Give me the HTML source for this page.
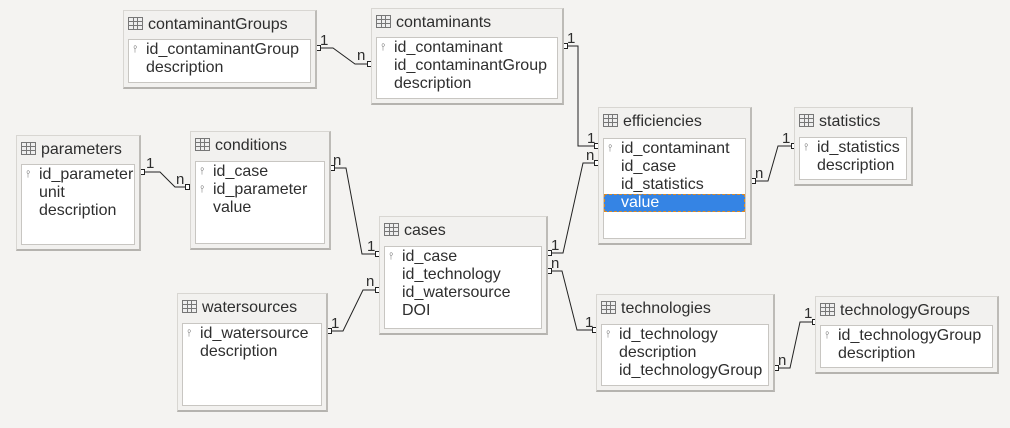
<!DOCTYPE html>
<html><head><meta charset="utf-8"><style>
body{margin:0;width:1010px;height:428px;background:#f4f3f1;position:relative;overflow:hidden;font-family:"Liberation Sans","DejaVu Sans",sans-serif;color:#2e2e2e}
.t{position:absolute;background:#f2f1ef;border:1px solid #d8d6d2;border-right:2px solid #bdbbb7;border-bottom:2px solid #b5b3af;box-sizing:border-box}
.h{position:absolute;left:4px;top:4px;font-size:16px;line-height:20px;white-space:nowrap}
.ic{display:inline-block;width:13px;height:11px;border:1px solid #777;margin-right:5px;vertical-align:-1px;background:linear-gradient(#777,#777) 0 3px/100% 1px no-repeat,linear-gradient(#777,#777) 4px 0/1px 100% no-repeat,linear-gradient(#777,#777) 8px 0/1px 100% no-repeat,linear-gradient(#777,#777) 0 7px/100% 1px no-repeat;background-color:#eee}
.b{position:absolute;left:4px;right:4px;bottom:4px;background:#fff;border:1px solid #c8c6c2;box-sizing:border-box;padding-top:1px}
.r{font-size:16px;line-height:18px;padding-left:17px;position:relative;white-space:nowrap}
.k::before{content:"⫯";position:absolute;left:4px;top:0;font-size:10px;color:#777}
.sel{background:#3584e4;color:#fff;outline:1px dashed #e08a20;outline-offset:-1px}
svg{position:absolute;left:0;top:0}
svg text{font-family:"Liberation Sans","DejaVu Sans",sans-serif;font-size:15px;fill:#2e2e2e}
</style></head><body>
<svg width="1010" height="428"><g stroke="#222" stroke-width="1" fill="none">
<polyline points="317,48 333,48 355,64 371,64"/>
<polyline points="564,46 578,46 578,146 598,146"/>
<polyline points="548,253 563,253 583,163 598,163"/>
<polyline points="548,271 562,271 577,330 596,330"/>
<polyline points="752,181 768,181 778,146 795,146"/>
<polyline points="141,172 160,172 175,187 189,187"/>
<polyline points="331,168 346,168 362,254 379,254"/>
<polyline points="328,331 343,331 363,290 379,290"/>
<polyline points="775,368 790,368 800,322 816,322"/>
</g>
<g fill="#fff" stroke="#222">
<rect x="316.5" y="45.5" width="4" height="5"/><rect x="367.5" y="61.5" width="4" height="5"/>
<rect x="563.5" y="43.5" width="4" height="5"/><rect x="594.5" y="143.5" width="4" height="5"/>
<rect x="547.5" y="250.5" width="4" height="5"/><rect x="594.5" y="160.5" width="4" height="5"/>
<rect x="547.5" y="268.5" width="4" height="5"/><rect x="592.5" y="327.5" width="4" height="5"/>
<rect x="751.5" y="178.5" width="4" height="5"/><rect x="791.5" y="143.5" width="4" height="5"/>
<rect x="140.5" y="169.5" width="4" height="5"/><rect x="185.5" y="184.5" width="4" height="5"/>
<rect x="330.5" y="165.5" width="4" height="5"/><rect x="375.5" y="251.5" width="4" height="5"/>
<rect x="327.5" y="328.5" width="4" height="5"/><rect x="375.5" y="287.5" width="4" height="5"/>
<rect x="774.5" y="365.5" width="4" height="5"/><rect x="812.5" y="319.5" width="4" height="5"/>
</g>
<text x="320" y="45">1</text><text x="357" y="60">n</text>
<text x="567" y="43">1</text><text x="587" y="143">1</text>
<text x="551" y="250">1</text><text x="586" y="160">n</text>
<text x="551" y="268">n</text><text x="585" y="327">1</text>
<text x="755" y="178">n</text><text x="782" y="143">1</text>
<text x="146" y="168">1</text><text x="176" y="184">n</text>
<text x="333" y="165">n</text><text x="367" y="251">1</text>
<text x="331" y="328">1</text><text x="366" y="286">n</text>
<text x="778" y="365">n</text><text x="804" y="318">1</text>
</svg>

<div class="t" style="left:123px;top:10px;width:194px;height:79px"><div class="h"><span class="ic"></span>contaminantGroups</div><div class="b" style="top:28px"><div class="r k">id_contaminantGroup</div><div class="r">description</div></div></div>
<div class="t" style="left:371px;top:8px;width:193px;height:97px"><div class="h"><span class="ic"></span>contaminants</div><div class="b" style="top:28px"><div class="r k">id_contaminant</div><div class="r">id_contaminantGroup</div><div class="r">description</div></div></div>
<div class="t" style="left:16px;top:135px;width:125px;height:116px"><div class="h"><span class="ic"></span>parameters</div><div class="b" style="top:28px"><div class="r k">id_parameter</div><div class="r">unit</div><div class="r">description</div></div></div>
<div class="t" style="left:190px;top:131px;width:141px;height:119px"><div class="h"><span class="ic"></span>conditions</div><div class="b" style="top:29px"><div class="r k">id_case</div><div class="r k">id_parameter</div><div class="r">value</div></div></div>
<div class="t" style="left:379px;top:216px;width:169px;height:119px"><div class="h"><span class="ic"></span>cases</div><div class="b" style="top:29px"><div class="r k">id_case</div><div class="r">id_technology</div><div class="r">id_watersource</div><div class="r">DOI</div></div></div>
<div class="t" style="left:177px;top:293px;width:151px;height:119px"><div class="h"><span class="ic"></span>watersources</div><div class="b" style="top:29px"><div class="r k">id_watersource</div><div class="r">description</div></div></div>
<div class="t" style="left:598px;top:107px;width:154px;height:138px"><div class="h"><span class="ic"></span>efficiencies</div><div class="b" style="top:30px"><div class="r k">id_contaminant</div><div class="r">id_case</div><div class="r">id_statistics</div><div class="r sel">value</div></div></div>
<div class="t" style="left:794px;top:107px;width:119px;height:79px"><div class="h"><span class="ic"></span>statistics</div><div class="b" style="top:29px"><div class="r k">id_statistics</div><div class="r">description</div></div></div>
<div class="t" style="left:596px;top:294px;width:179px;height:98px"><div class="h"><span class="ic"></span>technologies</div><div class="b" style="top:29px"><div class="r k">id_technology</div><div class="r">description</div><div class="r">id_technologyGroup</div></div></div>
<div class="t" style="left:815px;top:296px;width:184px;height:78px"><div class="h"><span class="ic"></span>technologyGroups</div><div class="b" style="top:28px"><div class="r k">id_technologyGroup</div><div class="r">description</div></div></div>
</body></html>
